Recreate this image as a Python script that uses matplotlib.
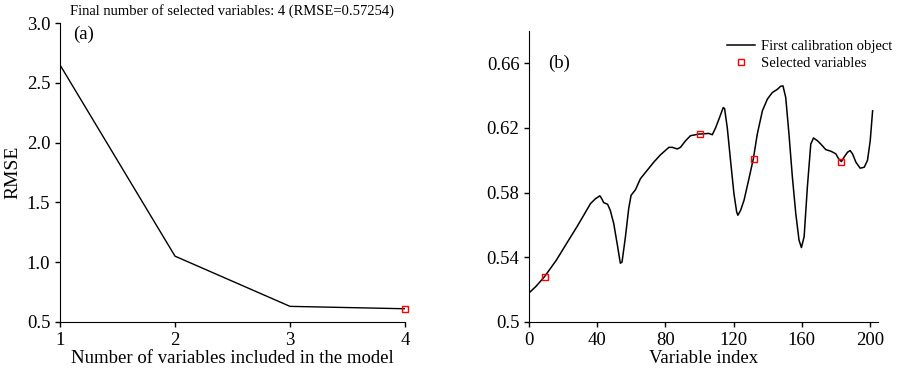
import numpy as np
import matplotlib.pyplot as plt

plt.rcParams['font.family'] = ['Liberation Serif', 'DejaVu Serif']

# panel (a): RMSE vs number of variables
n_vars = [1, 2, 3, 4]
rmse = [2.65, 1.05, 0.63, 0.61]

# panel (b): first calibration object spectrum
var_idx = [0, 4, 9, 16, 22, 28, 32, 36, 39, 41.5, 42.7, 43.7, 46, 47.6, 49.6,
           51.6, 53.5, 54.5, 56.5, 58.4, 59.8, 62.4, 65.3, 69.2, 73.1, 77, 82,
           84, 86.9, 88.8, 91.8, 94.7, 99.6, 105.5, 107.5, 109.4, 111.4, 113.9,
           114.7, 116.3, 118.2, 120.2, 121.8, 122.5, 124.1, 126.1, 129, 131.6,
           133.9, 136.9, 139.8, 142.7, 145.7, 147.6, 149, 150.6, 152.5, 154.5,
           156.5, 158.4, 159.8, 161.4, 163.3, 165.3, 166.9, 169.2, 171.2, 174.1,
           177.1, 180, 181.6, 183.3, 184.9, 186.9, 188.4, 189.8, 191.8, 194.3,
           196.7, 198.6, 200.2, 201.6]
signal = [0.518, 0.522, 0.528, 0.5383, 0.5486, 0.5588, 0.566, 0.5732, 0.5763,
          0.578, 0.576, 0.5738, 0.5728, 0.569, 0.561, 0.5486, 0.5363, 0.537,
          0.5527, 0.570, 0.5783, 0.5818, 0.5886, 0.5937, 0.5988, 0.6033, 0.608,
          0.608, 0.607, 0.608, 0.6121, 0.6152, 0.6162, 0.6166, 0.6158, 0.620,
          0.6255, 0.6326, 0.632, 0.620, 0.5998, 0.5793, 0.568, 0.566, 0.569,
          0.5752, 0.5886, 0.601, 0.6162, 0.6306, 0.6378, 0.6419, 0.6439, 0.6458,
          0.646, 0.6388, 0.6162, 0.5896, 0.567, 0.5506, 0.546, 0.5527, 0.5834,
          0.610, 0.6138, 0.6121, 0.610, 0.6066, 0.6056, 0.604, 0.601, 0.5992,
          0.602, 0.605, 0.606, 0.604, 0.5988, 0.5951, 0.5957, 0.600, 0.6121,
          0.6306]
sel_idx = [9, 100, 132, 183]
sel_val = [0.528, 0.616, 0.601, 0.599]

fig = plt.figure(figsize=(9, 3.73), dpi=100)
ax1 = fig.add_axes([0.0667, 0.137, 0.3833, 0.801])
ax2 = fig.add_axes([0.588, 0.137, 0.388, 0.78])

for ax in (ax1, ax2):
    ax.spines['top'].set_visible(False)
    ax.spines['right'].set_visible(False)
    ax.tick_params(direction='out', length=3.5, width=1, labelsize=13.5)

# (a)
ax1.plot(n_vars, rmse, color='black', lw=1)
ax1.plot(n_vars[-1], rmse[-1], 's', mfc='none', mec='red', ms=5, mew=1,
         clip_on=False)
ax1.set_xlim(1, 4)
ax1.set_ylim(0.5, 3.0)
ax1.set_xticks([1, 2, 3, 4])
ax1.set_yticks([0.5, 1.0, 1.5, 2.0, 2.5, 3.0])
ax1.set_yticklabels(['0.5', '1.0', '1.5', '2.0', '2.5', '3.0'])
ax1.set_xlabel('Number of variables included in the model', fontsize=13.5,
               labelpad=1)
ax1.set_ylabel('RMSE', fontsize=14, labelpad=4)
ax1.text(0.038, 0.99, '(a)', transform=ax1.transAxes, fontsize=13.5,
         va='top')
fig.text(0.258, 0.97, 'Final number of selected variables: 4 (RMSE=0.57254)',
         ha='center', va='center', fontsize=10.5)

# (b)
ax2.plot(var_idx, signal, color='black', lw=1.1, label='First calibration object')
ax2.plot(sel_idx, sel_val, 's', mfc='none', mec='red', ms=5, mew=1,
         ls='none', label='Selected variables')
ax2.set_xlim(0, 205)
ax2.set_ylim(0.5, 0.68)
ax2.set_xticks([0, 40, 80, 120, 160, 200])
ax2.set_yticks([0.5, 0.54, 0.58, 0.62, 0.66])
ax2.set_yticklabels(['0.5', '0.54', '0.58', '0.62', '0.66'])
ax2.set_xlabel('Variable index', fontsize=13.5, labelpad=1)
ax2.text(0.055, 0.89, '(b)', transform=ax2.transAxes, fontsize=13.5,
         va='center')
ax2.legend(loc='upper right', bbox_to_anchor=(1.04, 0.97), frameon=False,
           fontsize=10.5, handlelength=1.9, handletextpad=0.45,
           labelspacing=0.3, borderaxespad=0, borderpad=0, markerscale=0.8)

fig.savefig('out.png', dpi=100)
